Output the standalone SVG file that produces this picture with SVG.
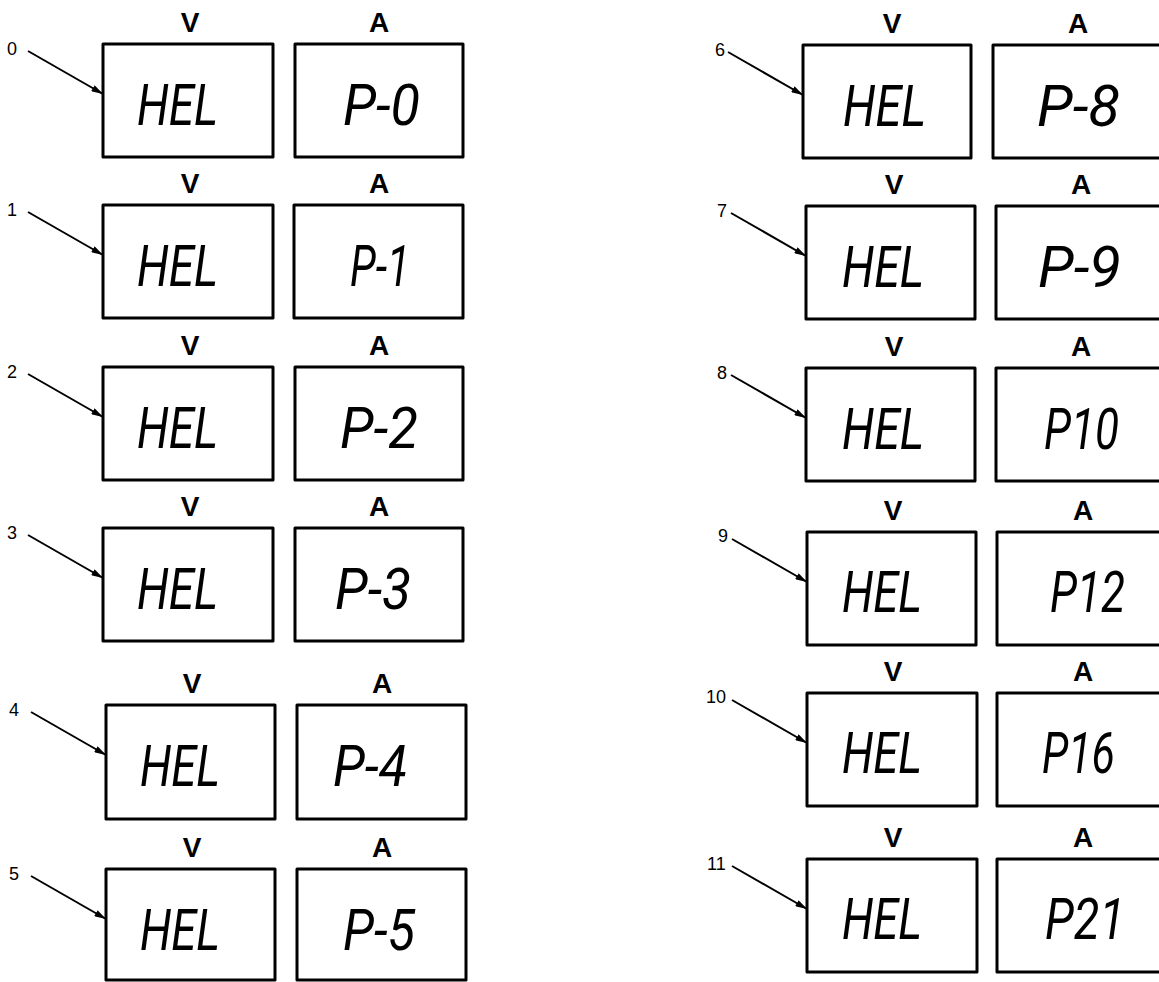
<svg xmlns="http://www.w3.org/2000/svg" width="1159" height="982" viewBox="0 0 1159 982">
<style>
.box{fill:#fff;stroke:#000;stroke-width:3;stroke-linejoin:round}
.lbl{font-family:"Liberation Sans",Arial,sans-serif;font-weight:bold;font-size:28px;text-anchor:middle;fill:#000}
.seg{font-family:Roboto,"Liberation Sans",Arial,sans-serif;font-style:italic;font-weight:400;font-size:58px;fill:#000}
.num{font-family:"Liberation Sans",Arial,sans-serif;font-size:18px;fill:#000}
.arr{stroke:#000;stroke-width:2;fill:none;marker-end:url(#ah)}
</style>
<defs>
<marker id="ah" viewBox="0 0 10 6" refX="10" refY="3" markerWidth="12" markerHeight="7" markerUnits="userSpaceOnUse" orient="auto"><path d="M0,0 L10,3 L0,6 Z" fill="#000"/></marker>
</defs>
<rect width="1159" height="982" fill="#fff"/>
<g id="connectors">
<line class="arr" x1="28" y1="51" x2="103" y2="94"/>
<line class="arr" x1="28" y1="212" x2="103" y2="255"/>
<line class="arr" x1="28" y1="374" x2="103" y2="417"/>
<line class="arr" x1="28" y1="535" x2="103" y2="578"/>
<line class="arr" x1="31" y1="712" x2="106" y2="755"/>
<line class="arr" x1="31" y1="876" x2="106" y2="919"/>
<line class="arr" x1="728" y1="52" x2="803" y2="95"/>
<line class="arr" x1="731" y1="213" x2="806" y2="256"/>
<line class="arr" x1="731" y1="375" x2="806" y2="418"/>
<line class="arr" x1="732" y1="539" x2="807" y2="582"/>
<line class="arr" x1="732" y1="700" x2="807" y2="743"/>
<line class="arr" x1="732" y1="866" x2="807" y2="909"/>
</g>
<g id="n0"><text class="num" x="7" y="55">0</text></g>
<g id="n1"><text class="num" x="7" y="216">1</text></g>
<g id="n2"><text class="num" x="7" y="378">2</text></g>
<g id="n3"><text class="num" x="7" y="539">3</text></g>
<g id="n4"><text class="num" x="9" y="716">4</text></g>
<g id="n5"><text class="num" x="9" y="880">5</text></g>
<g id="n6"><text class="num" x="715" y="56">6</text></g>
<g id="n7"><text class="num" x="717" y="217">7</text></g>
<g id="n8"><text class="num" x="717" y="379">8</text></g>
<g id="n9"><text class="num" x="718" y="542">9</text></g>
<g id="n10"><text class="num" x="706" y="703">10</text></g>
<g id="n11"><text class="num" x="707" y="870">11</text></g>

<g id="r0-v"><text class="lbl" x="190" y="32">V</text><rect class="box" x="103" y="44" width="170" height="113"/><text class="seg" x="137" y="125" textLength="81" lengthAdjust="spacingAndGlyphs">HEL</text></g>
<g id="r0-a"><text class="lbl" x="379" y="32">A</text><rect class="box" x="295" y="44" width="168" height="113"/><text class="seg" x="343" y="125" textLength="77" lengthAdjust="spacingAndGlyphs">P-0</text></g>

<g id="r1-v"><text class="lbl" x="190" y="193">V</text><rect class="box" x="103" y="205" width="170" height="113"/><text class="seg" x="137" y="286" textLength="81" lengthAdjust="spacingAndGlyphs">HEL</text></g>
<g id="r1-a"><text class="lbl" x="379" y="193">A</text><rect class="box" x="294" y="205" width="169" height="113"/><text class="seg" x="350" y="286" textLength="60" lengthAdjust="spacingAndGlyphs">P-1</text></g>

<g id="r2-v"><text class="lbl" x="190" y="355">V</text><rect class="box" x="103" y="367" width="170" height="113"/><text class="seg" x="137" y="448" textLength="81" lengthAdjust="spacingAndGlyphs">HEL</text></g>
<g id="r2-a"><text class="lbl" x="379" y="355">A</text><rect class="box" x="295" y="367" width="168" height="113"/><text class="seg" x="340" y="448" textLength="78" lengthAdjust="spacingAndGlyphs">P-2</text></g>

<g id="r3-v"><text class="lbl" x="190" y="516">V</text><rect class="box" x="103" y="528" width="170" height="113"/><text class="seg" x="137" y="609" textLength="81" lengthAdjust="spacingAndGlyphs">HEL</text></g>
<g id="r3-a"><text class="lbl" x="379" y="516">A</text><rect class="box" x="295" y="528" width="168" height="113"/><text class="seg" x="335" y="609" textLength="76" lengthAdjust="spacingAndGlyphs">P-3</text></g>

<g id="r4-v"><text class="lbl" x="192" y="693">V</text><rect class="box" x="106" y="705" width="169" height="114"/><text class="seg" x="140" y="786" textLength="80" lengthAdjust="spacingAndGlyphs">HEL</text></g>
<g id="r4-a"><text class="lbl" x="382" y="693">A</text><rect class="box" x="297" y="705" width="169" height="114"/><text class="seg" x="333" y="786" textLength="74" lengthAdjust="spacingAndGlyphs">P-4</text></g>

<g id="r5-v"><text class="lbl" x="192" y="857">V</text><rect class="box" x="106" y="869" width="169" height="111"/><text class="seg" x="140" y="950" textLength="80" lengthAdjust="spacingAndGlyphs">HEL</text></g>
<g id="r5-a"><text class="lbl" x="382" y="857">A</text><rect class="box" x="297" y="869" width="169" height="111"/><text class="seg" x="343" y="950" textLength="72" lengthAdjust="spacingAndGlyphs">P-5</text></g>

<g id="r6-v"><text class="lbl" x="892" y="33">V</text><rect class="box" x="803" y="45" width="168" height="113"/><text class="seg" x="843" y="126" textLength="83" lengthAdjust="spacingAndGlyphs">HEL</text></g>
<g id="r6-a"><text class="lbl" x="1078" y="33">A</text><rect class="box" x="993" y="45" width="180" height="113"/><text class="seg" x="1037" y="126" textLength="83" lengthAdjust="spacingAndGlyphs">P-8</text></g>

<g id="r7-v"><text class="lbl" x="894" y="194">V</text><rect class="box" x="806" y="206" width="169" height="113"/><text class="seg" x="842" y="287" textLength="82" lengthAdjust="spacingAndGlyphs">HEL</text></g>
<g id="r7-a"><text class="lbl" x="1081" y="194">A</text><rect class="box" x="996" y="206" width="180" height="113"/><text class="seg" x="1038" y="287" textLength="83" lengthAdjust="spacingAndGlyphs">P-9</text></g>

<g id="r8-v"><text class="lbl" x="894" y="356">V</text><rect class="box" x="806" y="368" width="169" height="113"/><text class="seg" x="842" y="449" textLength="82" lengthAdjust="spacingAndGlyphs">HEL</text></g>
<g id="r8-a"><text class="lbl" x="1081" y="356">A</text><rect class="box" x="996" y="368" width="180" height="113"/><text class="seg" x="1044" y="449" textLength="75" lengthAdjust="spacingAndGlyphs">P10</text></g>

<g id="r9-v"><text class="lbl" x="893" y="520">V</text><rect class="box" x="807" y="532" width="169" height="113"/><text class="seg" x="842" y="612" textLength="80" lengthAdjust="spacingAndGlyphs">HEL</text></g>
<g id="r9-a"><text class="lbl" x="1083" y="520">A</text><rect class="box" x="997" y="532" width="180" height="113"/><text class="seg" x="1050" y="612" textLength="75" lengthAdjust="spacingAndGlyphs">P12</text></g>

<g id="r10-v"><text class="lbl" x="893" y="681">V</text><rect class="box" x="807" y="693" width="170" height="113"/><text class="seg" x="842" y="773" textLength="80" lengthAdjust="spacingAndGlyphs">HEL</text></g>
<g id="r10-a"><text class="lbl" x="1083" y="681">A</text><rect class="box" x="997" y="693" width="180" height="113"/><text class="seg" x="1042" y="773" textLength="73" lengthAdjust="spacingAndGlyphs">P16</text></g>

<g id="r11-v"><text class="lbl" x="893" y="847">V</text><rect class="box" x="807" y="859" width="170" height="113"/><text class="seg" x="842" y="939" textLength="80" lengthAdjust="spacingAndGlyphs">HEL</text></g>
<g id="r11-a"><text class="lbl" x="1083" y="847">A</text><rect class="box" x="997" y="859" width="180" height="113"/><text class="seg" x="1045" y="939" textLength="80" lengthAdjust="spacingAndGlyphs">P21</text></g>
</svg>
